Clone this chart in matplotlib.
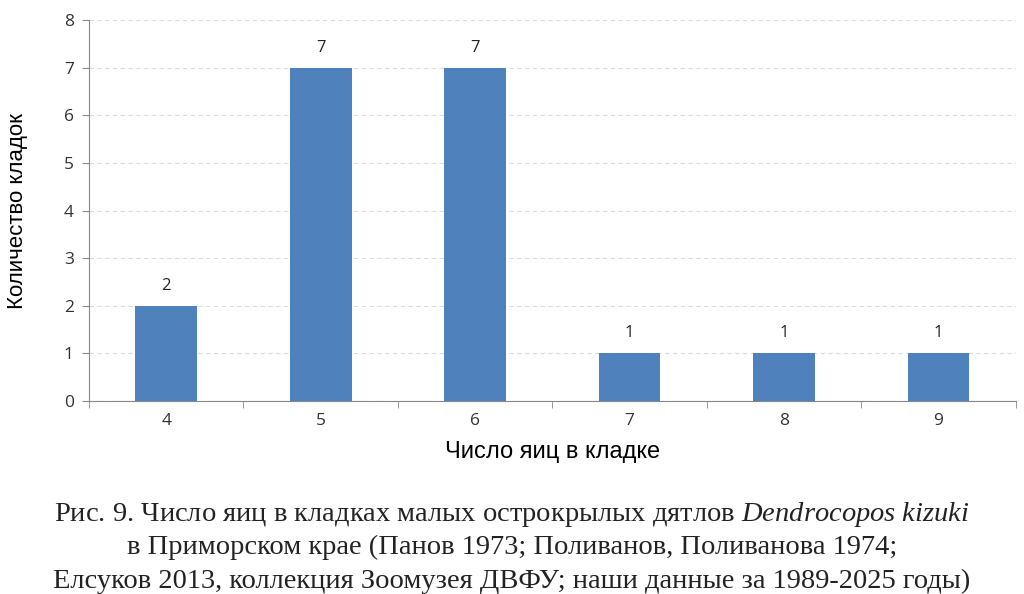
import numpy as np
import matplotlib
matplotlib.use('Agg')
import matplotlib.pyplot as plt

# data
eggs = ['4', '5', '6', '7', '8', '9']
clutches = [2, 7, 7, 1, 1, 1]

caption_lines = [
    'Рис. 9. Число яиц в кладках малых острокрылых дятлов $\\it{Dendrocopos\\ kizuki}$',
    'в Приморском крае (Панов 1973; Поливанов, Поливанова 1974;',
    'Елсуков 2013, коллекция Зоомузея ДВФУ; наши данные за 1989-2025 годы)',
]

plt.rcParams['mathtext.fontset'] = 'custom'
plt.rcParams['mathtext.it'] = 'Liberation Serif:italic'
plt.rcParams['mathtext.rm'] = 'Liberation Serif'

fig = plt.figure(figsize=(10.24, 5.94), dpi=100)
ax = fig.add_axes([0.0869, 0.325, 0.905, 0.641])

x = np.arange(len(eggs))
ax.bar(x, clutches, width=0.4, color='#4f81bd', zorder=3)
for xi, v in zip(x, clutches):
    ax.text(xi, v + 0.25, str(v), ha='center', va='bottom',
            fontsize=12, family='Open Sans', color='#222222')

ax.set_xlim(-0.5, len(eggs) - 0.5)
ax.set_ylim(0, 8)
ax.set_yticks(range(0, 9))
ax.set_xticks(x)
ax.set_xticklabels(eggs)
ax.set_xticks(np.arange(-0.5, len(eggs)), minor=True)
ax.tick_params(axis='x', which='major', length=0, pad=9)
ax.tick_params(axis='x', which='minor', length=5, color='#888888')
ax.tick_params(axis='y', length=5, color='#888888', pad=6)
for lbl in ax.get_xticklabels() + ax.get_yticklabels():
    lbl.set_family('Open Sans')
    lbl.set_fontsize(12.5)
    lbl.set_color('#333333')

ax.grid(axis='y', color='#d5dce8', linestyle=(0, (4, 3)), linewidth=0.8, zorder=0)
for side in ['top', 'right']:
    ax.spines[side].set_visible(False)
ax.spines['left'].set_color('#888888')
ax.spines['bottom'].set_color('#888888')

ax.set_xlabel('Число яиц в кладке', fontsize=17, family='Liberation Sans', labelpad=8)
ax.set_ylabel('Количество кладок', fontsize=16, family='Liberation Sans', labelpad=26)

for i, line in enumerate(caption_lines):
    fig.text(0.5, 1 - (521 + 33.5 * i) / 594.0, line, ha='center', va='baseline',
             fontsize=20.5, family='Liberation Serif', color='#222222')

fig.savefig('out.png', dpi=100)
